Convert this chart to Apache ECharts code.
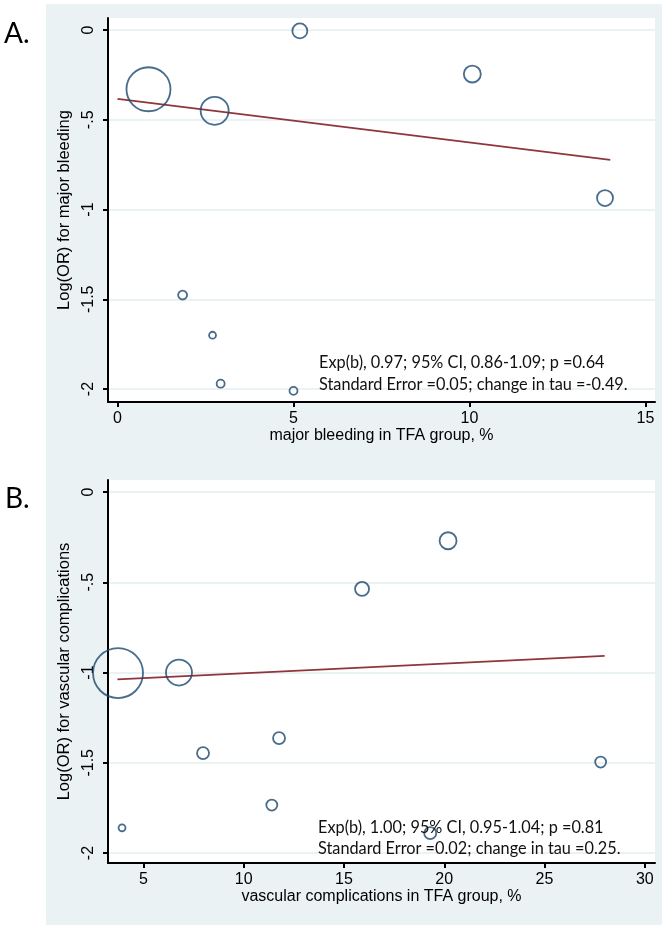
<!DOCTYPE html>
<html><head><meta charset="utf-8">
<script src="https://cdn.jsdelivr.net/npm/echarts@6/dist/echarts.min.js"></script>
<style>html,body{margin:0;padding:0;background:#fff}#c{width:672px;height:930px}</style>
</head><body><div id="c"></div>
<script>
// ---- Panel A: major bleeding ----
const aX = [0.88, 2.76, 5.18, 10.08, 13.85, 1.85, 2.70, 2.93, 5.00];
const aY = [-0.33, -0.45, -0.005, -0.245, -0.936, -1.476, -1.70, -1.97, -2.01];
const aWeight = [484, 196, 56, 72, 64, 20, 12, 16, 16];
const aFitX = [0, 14];
const aFitY = [-0.384, -0.723];
const aXTicks = [0, 5, 10, 15];
const aYTicks = [0, -0.5, -1, -1.5, -2];
const aYTickLabels = ['0', '-.5', '-1', '-1.5', '-2'];
const aXTitle = 'major bleeding in TFA group, %';
const aYTitle = 'Log(OR) for major bleeding';
const aNote = ['Exp(b), 0.97; 95% CI, 0.86-1.09; p =0.64', 'Standard Error =0.05; change in tau =-0.49.'];

// ---- Panel B: vascular complications ----
const bX = [3.73, 6.77, 15.9, 20.19, 7.97, 11.76, 27.8, 11.4, 19.3, 3.93];
const bY = [-1.003, -1.0, -0.537, -0.27, -1.446, -1.363, -1.496, -1.734, -1.89, -1.86];
const bWeight = [625, 169, 49, 72, 36, 36, 30, 30, 36, 12];
const bFitX = [3.7, 28];
const bFitY = [-1.038, -0.908];
const bXTicks = [5, 10, 15, 20, 25, 30];
const bYTicks = [0, -0.5, -1, -1.5, -2];
const bYTickLabels = ['0', '-.5', '-1', '-1.5', '-2'];
const bXTitle = 'vascular complications in TFA group, %';
const bYTitle = 'Log(OR) for vascular complications';
const bNote = ['Exp(b), 1.00; 95% CI, 0.95-1.04; p =0.81', 'Standard Error =0.02; change in tau =0.25.'];

const panelLabels = ['A.', 'B.'];

const NAVY = '#1a476f', MAROON = '#90353b', GRID = '#eaf2f3';
const AXF = '"Liberation Sans", Arial, sans-serif';
const NOTEF = 'Lato, "Open Sans", sans-serif';

function zip(xs, ys) { return xs.map((x, i) => [x, ys[i]]); }
function bubbles(xs, ys, ws) { return xs.map((x, i) => [x, ys[i], ws[i]]); }

function xAxisCfg(gi, min, max, ticks, title) {
  return {
    gridIndex: gi, type: 'value', min: min, max: max,
    axisLine: { show: true, onZero: false, lineStyle: { color: '#000', width: 2 } },
    axisTick: { show: true, customValues: ticks, length: 5, lineStyle: { color: '#000', width: 2 } },
    axisLabel: { customValues: ticks, margin: 9, fontSize: 16, color: '#000', fontFamily: AXF },
    splitLine: { show: false },
    name: title, nameLocation: 'middle', nameGap: 25,
    nameTextStyle: { fontSize: 16, color: '#000', fontFamily: AXF }
  };
}
function yAxisCfg(gi, min, max, ticks, labels, title) {
  return {
    gridIndex: gi, type: 'value', min: min, max: max,
    axisLine: { show: true, onZero: false, lineStyle: { color: '#000', width: 2 } },
    axisTick: { show: true, customValues: ticks, length: 5, lineStyle: { color: '#000', width: 2 } },
    axisLabel: {
      customValues: ticks, rotate: 90, margin: 11, fontSize: 16, color: '#000', fontFamily: AXF,
      formatter: function (v) {
        for (let i = 0; i < ticks.length; i++) if (Math.abs(ticks[i] - v) < 1e-9) return labels[i];
        return String(v);
      }
    },
    splitLine: { show: true, lineStyle: { color: GRID, width: 2 } },
    name: title, nameLocation: 'middle', nameGap: 29, nameRotate: 90,
    nameTextStyle: { fontSize: 16.5, color: '#000', fontFamily: AXF }
  };
}
function bubbleSeries(gi, data) {
  return {
    type: 'scatter', xAxisIndex: gi, yAxisIndex: gi, data: data, z: 4,
    symbol: 'circle',
    symbolSize: function (d) { return 2 * Math.sqrt(d[2]); },
    itemStyle: { color: 'rgba(0,0,0,0)', borderColor: NAVY, borderWidth: 1.8 },
    emphasis: { disabled: true }
  };
}
function fitSeries(gi, data) {
  return {
    type: 'line', xAxisIndex: gi, yAxisIndex: gi, data: data, z: 3,
    symbol: 'none', lineStyle: { color: MAROON, width: 1.7 }, emphasis: { disabled: true }
  };
}
function noteText(lines, x, y1, y2) {
  return [
    { type: 'text', left: x, top: y1, z: 10, style: { text: lines[0], fill: '#111', font: '16.3px ' + NOTEF } },
    { type: 'text', left: x, top: y2, z: 10, style: { text: lines[1], fill: '#111', font: '16.3px ' + NOTEF } }
  ];
}

const chart = echarts.init(document.getElementById('c'), null, { renderer: 'canvas' });
chart.setOption({
  animation: false,
  backgroundColor: '#ffffff',
  grid: [
    { left: 108, top: 18, width: 547, height: 384, show: true, backgroundColor: '#ffffff', borderWidth: 0 },
    { left: 108, top: 480, width: 547, height: 383, show: true, backgroundColor: '#ffffff', borderWidth: 0 }
  ],
  xAxis: [
    xAxisCfg(0, -0.27, 15.27, aXTicks, aXTitle),
    xAxisCfg(1, 3.23, 30.51, bXTicks, bXTitle)
  ],
  yAxis: [
    yAxisCfg(0, -2.072, 0.067, aYTicks, aYTickLabels, aYTitle),
    yAxisCfg(1, -2.055, 0.0665, bYTicks, bYTickLabels, bYTitle)
  ],
  series: [
    fitSeries(0, zip(aFitX, aFitY)),
    bubbleSeries(0, bubbles(aX, aY, aWeight)),
    fitSeries(1, zip(bFitX, bFitY)),
    bubbleSeries(1, bubbles(bX, bY, bWeight))
  ],
  graphic: [
    { type: 'rect', z: -100, silent: true, shape: { x: 46, y: 4, width: 616, height: 921 }, style: { fill: GRID } },
    { type: 'text', left: 4, top: 20, style: { text: panelLabels[0], fill: '#000', font: '28px ' + NOTEF } },
    { type: 'text', left: 5, top: 485, style: { text: panelLabels[1], fill: '#000', font: '28px ' + NOTEF } }
  ].concat(noteText(aNote, 319, 355, 377)).concat(noteText(bNote, 318, 820, 841))
});
</script>
</body></html>
